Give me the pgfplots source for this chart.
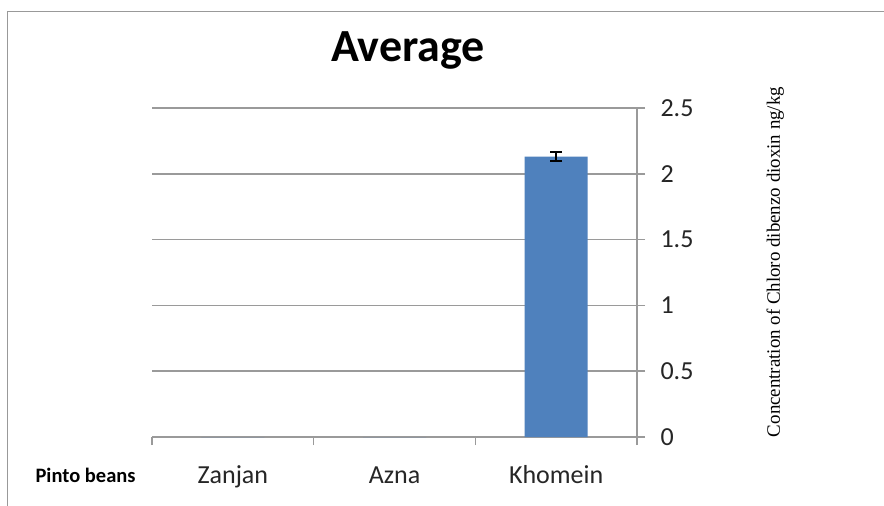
\documentclass[border=0pt]{standalone}
\usepackage{fontspec}
\setmainfont{Carlito}
\newfontfamily\tnr{Liberation Serif}
\usepackage{pgfplots}
\pgfplotsset{compat=1.18}
\definecolor{barblue}{HTML}{4F81BD}
\definecolor{gridgray}{HTML}{9A9A9A}
\begin{document}
\begin{tikzpicture}
\useasboundingbox (0,0) rectangle (884pt,-506pt);
\fill[white] (0,0) rectangle (884pt,-506pt);
\draw[gray!80, line width=1.5pt] (7.5pt,-506pt) -- (7.5pt,-11.5pt) -- (884pt,-11.5pt);
\begin{axis}[
  at={(152pt,-437pt)}, anchor=south west,
  scale only axis, width=485pt, height=329pt,
  xmin=-0.5, xmax=2.5, ymin=0, ymax=2.5,
  clip=false,
  axis x line*=bottom, axis y line*=right,
  ytick={0,0.5,1,1.5,2,2.5},
  xtick={0,1,2}, xticklabels={Zanjan,Azna,Khomein},
  minor xtick={-0.5,0.5,1.5,2.5},
  major x tick style={draw=none},
  tick align=outside,
  major tick length=8pt, minor tick length=8pt,
  ymajorgrids, grid style={gridgray, line width=1.6pt},
  axis line style={gridgray, line width=1.6pt, -},
  tick style={gridgray, line width=1.6pt},
  tick label style={font=\fontsize{26}{28}\selectfont, text=black!85},
  /pgf/number format/assume math mode=true,
  xticklabel style={anchor=base, yshift=-38pt},
  yticklabel style={anchor=west, xshift=12pt},
  title={Average},
  title style={font=\bfseries\fontsize{46}{46}\selectfont, at={(0.528,1)}, anchor=base, yshift=41pt},
]
\addplot[ybar, bar width=63pt, fill=barblue, draw=none] coordinates {(0,0) (1,0) (2,2.13)};
\addplot[draw=none, mark=none, forget plot,
  error bars/.cd, y dir=both, y explicit,
  error bar style={draw=black, line width=2pt},
  error mark options={draw=black, line width=2pt, mark size=6pt, rotate=90}]
  coordinates {(2,2.13) +- (0,0.035)};
\node[rotate=90, font=\tnr\fontsize{18.9}{19}\selectfont] at (axis description cs:1.285,0.532) {Concentration of Chloro dibenzo dioxin ng/kg};
\node[anchor=base, font=\bfseries\fontsize{20.5}{21}\selectfont] at (axis description cs:-0.137,-0.137) {Pinto beans};
\end{axis}
\end{tikzpicture}
\end{document}
